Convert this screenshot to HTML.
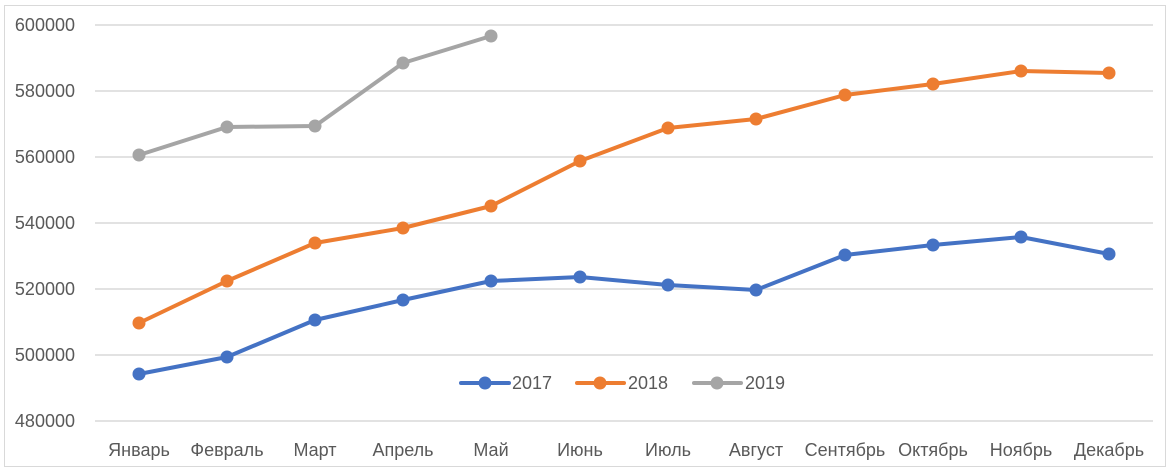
<!DOCTYPE html>
<html><head><meta charset="utf-8"><style>
html,body{margin:0;padding:0;background:#fff;}
svg{display:block;font-family:"Liberation Sans","DejaVu Sans",sans-serif;}
</style></head><body>
<svg width="1172" height="476" viewBox="0 0 1172 476">
<rect x="0" y="0" width="1172" height="476" fill="#fff"/>
<rect x="4.5" y="5.5" width="1161" height="461" fill="none" stroke="#d9d9d9" stroke-width="1"/>
<g stroke="#d9d9d9" stroke-width="1.5">
<line x1="95" x2="1153" y1="25" y2="25"/>
<line x1="95" x2="1153" y1="91" y2="91"/>
<line x1="95" x2="1153" y1="157" y2="157"/>
<line x1="95" x2="1153" y1="223" y2="223"/>
<line x1="95" x2="1153" y1="289" y2="289"/>
<line x1="95" x2="1153" y1="355" y2="355"/>
<line x1="95" x2="1153" y1="421" y2="421"/>
</g>
<g fill="#595959" font-size="18" text-anchor="end">
<text x="75" y="31">600000</text>
<text x="75" y="97">580000</text>
<text x="75" y="163">560000</text>
<text x="75" y="229">540000</text>
<text x="75" y="295">520000</text>
<text x="75" y="361">500000</text>
<text x="75" y="427">480000</text>
</g>
<g fill="#595959" font-size="18" text-anchor="middle">
<text x="139" y="456">Январь</text>
<text x="227" y="456">Февраль</text>
<text x="315" y="456">Март</text>
<text x="403" y="456">Апрель</text>
<text x="491" y="456">Май</text>
<text x="580" y="456">Июнь</text>
<text x="668" y="456">Июль</text>
<text x="756" y="456">Август</text>
<text x="845" y="456">Сентябрь</text>
<text x="933" y="456">Октябрь</text>
<text x="1021" y="456">Ноябрь</text>
<text x="1109" y="456">Декабрь</text>
</g>
<g fill="none" stroke-width="4" stroke-linejoin="round" stroke-linecap="round">
<polyline stroke="#4472c4" points="139,374 227,357 315,320 403,300 491,281 580,277 668,285 756,290 845,255 933,245 1021,237 1109,254"/>
<polyline stroke="#ed7d31" points="139,323 227,281 315,243 403,228 491,206 580,161 668,128 756,119 845,95 933,84 1021,71 1109,73"/>
<polyline stroke="#a5a5a5" points="139,155 227,127 315,126 403,63 491,36"/>
</g>
<g fill="#4472c4">
<circle cx="139" cy="374" r="6.5"/><circle cx="227" cy="357" r="6.5"/><circle cx="315" cy="320" r="6.5"/><circle cx="403" cy="300" r="6.5"/><circle cx="491" cy="281" r="6.5"/><circle cx="580" cy="277" r="6.5"/><circle cx="668" cy="285" r="6.5"/><circle cx="756" cy="290" r="6.5"/><circle cx="845" cy="255" r="6.5"/><circle cx="933" cy="245" r="6.5"/><circle cx="1021" cy="237" r="6.5"/><circle cx="1109" cy="254" r="6.5"/>
</g>
<g fill="#ed7d31">
<circle cx="139" cy="323" r="6.5"/><circle cx="227" cy="281" r="6.5"/><circle cx="315" cy="243" r="6.5"/><circle cx="403" cy="228" r="6.5"/><circle cx="491" cy="206" r="6.5"/><circle cx="580" cy="161" r="6.5"/><circle cx="668" cy="128" r="6.5"/><circle cx="756" cy="119" r="6.5"/><circle cx="845" cy="95" r="6.5"/><circle cx="933" cy="84" r="6.5"/><circle cx="1021" cy="71" r="6.5"/><circle cx="1109" cy="73" r="6.5"/>
</g>
<g fill="#a5a5a5">
<circle cx="139" cy="155" r="6.5"/><circle cx="227" cy="127" r="6.5"/><circle cx="315" cy="126" r="6.5"/><circle cx="403" cy="63" r="6.5"/><circle cx="491" cy="36" r="6.5"/>
</g>
<g stroke-width="4" stroke-linecap="round">
<line x1="461" x2="509" y1="383" y2="383" stroke="#4472c4"/>
<line x1="577" x2="624" y1="383" y2="383" stroke="#ed7d31"/>
<line x1="694" x2="741" y1="383" y2="383" stroke="#a5a5a5"/>
</g>
<circle cx="485" cy="383" r="6.5" fill="#4472c4"/>
<circle cx="600" cy="383" r="6.5" fill="#ed7d31"/>
<circle cx="717" cy="383" r="6.5" fill="#a5a5a5"/>
<g fill="#595959" font-size="18">
<text x="512" y="389">2017</text>
<text x="628" y="389">2018</text>
<text x="745" y="389">2019</text>
</g>
</svg>
</body></html>
